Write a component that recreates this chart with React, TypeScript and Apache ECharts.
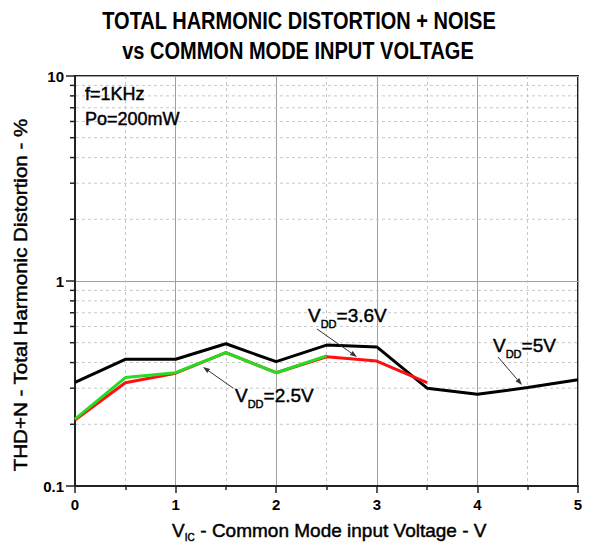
import React, { useEffect, useRef } from "react";
import * as echarts from "echarts";

const xValues = [0, 0.5, 1, 1.5, 2, 2.5, 3, 3.5, 4, 4.5, 5];
const vdd5 = [0.32, 0.415, 0.415, 0.494, 0.404, 0.487, 0.477, 0.3, 0.28, 0.302, 0.33];
const vdd36 = [0.21, 0.319, 0.355, 0.447, 0.357, 0.427, 0.407, 0.319];
const vdd25 = [0.212, 0.338, 0.357, 0.447, 0.357, 0.431];
const minorY = [0.2, 0.3, 0.4, 0.5, 0.6, 0.7, 0.8, 0.9, 2, 3, 4, 5, 6, 7, 8, 9];
const titleLines = ["TOTAL HARMONIC DISTORTION + NOISE", "vs COMMON MODE INPUT VOLTAGE"];
const yTitle = "THD+N - Total Harmonic Distortion - %";
const xTitleParts = ["V", "IC", " - Common Mode input Voltage - V"];
const condLines = ["f=1KHz", "Po=200mW"];

const FONT = '"Liberation Sans", Arial, Helvetica, sans-serif';

function txt(x: number, y: number, text: string, size: number, o: any = {}) {
  const align = o.align || "left";
  const bold = o.weight === "bold";
  return {
    type: "text",
    x,
    y,
    scaleX: o.scaleX || 1,
    rotation: o.rotation || 0,
    z: 100,
    style: {
      text,
      fontSize: size,
      fontFamily: FONT,
      fontWeight: o.weight || "normal",
      fill: o.fill || "#000",
      stroke: bold ? undefined : "#000",
      lineWidth: bold ? 0 : 0.45,
      textAlign: align,
      align,
      textVerticalAlign: "middle",
      verticalAlign: "middle",
    },
  };
}

function annot(xV: number, yC: number, rest: string) {
  const vw = 19 * 0.667;
  const dw = 11 * 1.444;
  return [
    txt(xV, yC, "V", 19),
    txt(xV + vw, yC + 9, "DD", 11),
    txt(xV + vw + dw, yC, rest, 19),
  ];
}

function arrow(x1: number, y1: number, x2: number, y2: number) {
  const dx = x2 - x1;
  const dy = y2 - y1;
  const len = Math.sqrt(dx * dx + dy * dy);
  const ux = dx / len;
  const uy = dy / len;
  const px = -uy;
  const py = ux;
  const hl = 7;
  const hw = 2.5;
  const bx = x2 - ux * hl;
  const by = y2 - uy * hl;
  return [
    {
      type: "line",
      z: 100,
      shape: { x1, y1, x2: bx, y2: by },
      style: { stroke: "#333", lineWidth: 1 },
    },
    {
      type: "polygon",
      z: 100,
      shape: {
        points: [
          [x2, y2],
          [bx + px * hw, by + py * hw],
          [bx - px * hw, by - py * hw],
        ],
      },
      style: { fill: "#333" },
    },
  ];
}

function pairs(vals: number[]) {
  return vals.map((v, i) => [xValues[i], v]);
}

export default function App() {
  const ref = useRef<HTMLDivElement>(null);
  useEffect(() => {
    if (!ref.current) return;
    const chart = echarts.init(ref.current, null, { renderer: "svg" });
    const graphic: any[] = [
      txt(299, 21, titleLines[0], 23, { weight: "bold", align: "center", scaleX: 0.87 }),
      txt(298, 51, titleLines[1], 23, { weight: "bold", align: "center", scaleX: 0.87 }),
      txt(21, 295, yTitle, 18, { align: "center", rotation: Math.PI / 2, scaleX: 1.14 }),
      txt(172, 530, xTitleParts[0], 19),
      txt(184.7, 537.5, xTitleParts[1], 10),
      txt(195, 530, xTitleParts[2], 19),
      txt(85, 94, condLines[0], 18),
      txt(85, 119, condLines[1], 18),
      ...annot(235, 395, "=2.5V"),
      ...annot(308, 315, "=3.6V"),
      ...annot(493, 345, "=5V"),
      ...arrow(233, 388, 203, 367),
      ...arrow(317, 329, 357, 357),
      ...arrow(498, 357, 522, 385),
    ];
    chart.setOption({
      animation: false,
      backgroundColor: "#fff",
      grid: {
        left: 75,
        right: 16,
        top: 76,
        bottom: 59,
        show: true,
        borderColor: "#222",
        borderWidth: 2,
        backgroundColor: "transparent",
      },
      xAxis: {
        type: "value",
        min: 0,
        max: 5,
        interval: 1,
        axisLine: { show: true, lineStyle: { color: "#222", width: 2 } },
        axisTick: { show: true, length: 7, lineStyle: { color: "#222", width: 1.5 } },
        minorTick: { show: true, splitNumber: 2, length: 4, lineStyle: { color: "#222", width: 1.5 } },
        minorSplitLine: { show: true, lineStyle: { color: "#c8c8c8", width: 1, type: [3, 3] } },
        splitLine: { show: true, lineStyle: { color: "#a0a0a0", width: 1 } },
        axisLabel: { fontFamily: FONT, fontWeight: "bold", fontSize: 15, color: "#000", margin: 11 },
      },
      yAxis: {
        type: "log",
        logBase: 10,
        min: 0.1,
        max: 10,
        axisLine: { show: true, lineStyle: { color: "#222", width: 2 } },
        axisTick: { show: true, length: 9, lineStyle: { color: "#222", width: 1.5 } },
        splitLine: { show: true, lineStyle: { color: "#a0a0a0", width: 1 } },
        axisLabel: {
          fontFamily: FONT,
          fontWeight: "bold",
          fontSize: 15,
          color: "#000",
          margin: 11,
          formatter: (v: number) => (v < 1 ? v.toFixed(1) : String(Math.round(v))),
        },
      },
      series: [
        {
          type: "custom",
          z: 1,
          silent: true,
          data: minorY.map((v) => [0, v]),
          renderItem: (params: any, api: any) => {
            const v = api.value(1);
            const p0 = api.coord([0, v]);
            const p1 = api.coord([5, v]);
            return {
              type: "group",
              children: [
                {
                  type: "line",
                  shape: { x1: p0[0] + 1, y1: p0[1], x2: p1[0] - 1, y2: p1[1] },
                  style: { stroke: "#c8c8c8", lineWidth: 1, lineDash: [3, 3] },
                },
                {
                  type: "line",
                  shape: { x1: p0[0] - 5, y1: p0[1], x2: p0[0], y2: p0[1] },
                  style: { stroke: "#222", lineWidth: 1.5 },
                },
              ],
            };
          },
        },
        {
          type: "line",
          name: "VDD=5V",
          z: 3,
          data: pairs(vdd5),
          symbol: "none",
          lineStyle: { color: "#000", width: 3 },
        },
        {
          type: "line",
          name: "VDD=3.6V",
          z: 4,
          data: pairs(vdd36),
          symbol: "none",
          lineStyle: { color: "#ff1010", width: 3 },
        },
        {
          type: "line",
          name: "VDD=2.5V",
          z: 5,
          data: pairs(vdd25),
          symbol: "none",
          lineStyle: { color: "#22dd22", width: 3 },
        },
      ],
      graphic,
    });
    return () => chart.dispose();
  }, []);
  return <div ref={ref} style={{ width: 594, height: 545, position: "absolute", left: 0, top: 0 }} />;
}
